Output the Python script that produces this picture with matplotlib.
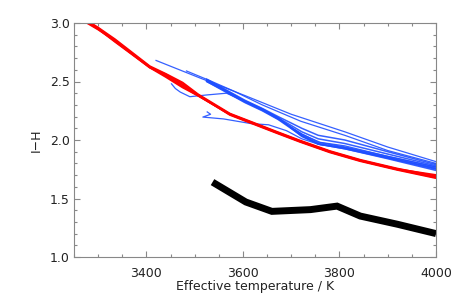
import matplotlib
matplotlib.use("Agg")
import matplotlib.pyplot as plt
from matplotlib.ticker import MultipleLocator

# ---- data ----
black_T = [3537, 3606, 3660, 3740, 3795, 3843, 3920, 4000]
black_V = [1.64, 1.47, 1.39, 1.405, 1.435, 1.35, 1.28, 1.20]

red_T = [3265, 3300, 3335, 3407, 3440, 3475, 3507, 3573, 3620, 3670, 3718, 3780, 3843, 3920, 4000]
red_V1 = [3.04, 2.95, 2.84, 2.62, 2.54, 2.45, 2.38, 2.22, 2.145, 2.065, 1.99, 1.90, 1.825, 1.75, 1.68]
red_V2 = [3.05, 2.96, 2.86, 2.63, 2.565, 2.49, 2.39, 2.225, 2.15, 2.07, 1.995, 1.905, 1.83, 1.755, 1.69]
red_V3 = [3.03, 2.945, 2.85, 2.62, 2.56, 2.475, 2.385, 2.215, 2.14, 2.06, 1.985, 1.895, 1.82, 1.745, 1.675]
red_V4 = [3.045, 2.955, 2.845, 2.625, 2.55, 2.46, 2.38, 2.22, 2.145, 2.065, 1.99, 1.90, 1.825, 1.75, 1.70]

blueA_T = [3420, 3511, 3604, 3700, 3811, 3900, 4000]
blueA_V = [2.68, 2.53, 2.38, 2.22, 2.07, 1.94, 1.815]
blueB_T = [3483, 3530, 3580, 3640, 3720, 3811, 3900, 4000]
blueB_V = [2.59, 2.51, 2.42, 2.30, 2.16, 2.04, 1.91, 1.80]
bund_T = [3525, 3560, 3604, 3640, 3673, 3722, 3756, 3811, 3900, 4000]
bund_V1 = [2.51, 2.43, 2.33, 2.26, 2.185, 2.04, 1.97, 1.93, 1.85, 1.76]
bund_V2 = [2.50, 2.425, 2.325, 2.255, 2.18, 2.05, 1.98, 1.94, 1.86, 1.77]
bund_V3 = [2.515, 2.435, 2.335, 2.265, 2.19, 2.03, 1.965, 1.925, 1.845, 1.75]
bund_V4 = [2.505, 2.43, 2.33, 2.265, 2.19, 2.07, 2.01, 1.97, 1.88, 1.78]
bund_V5 = [2.52, 2.44, 2.34, 2.27, 2.20, 2.10, 2.04, 2.00, 1.90, 1.79]
bund_V6 = [2.50, 2.42, 2.32, 2.25, 2.175, 2.035, 1.965, 1.925, 1.84, 1.74]
hook1_T = [3452, 3460, 3470, 3490, 3525, 3566, 3604, 3640, 3673, 3722, 3760, 3811, 3900, 4000]
hook1_V = [2.48, 2.44, 2.41, 2.37, 2.385, 2.40, 2.33, 2.26, 2.18, 2.05, 1.98, 1.95, 1.86, 1.77]
hook2_T = [3526, 3533, 3517, 3560, 3617, 3653, 3690, 3722, 3760, 3811, 3900, 4000]
hook2_V = [2.24, 2.22, 2.196, 2.18, 2.14, 2.13, 2.08, 2.01, 1.96, 1.935, 1.85, 1.755]

x_ticks = [3400, 3600, 3800, 4000]
y_ticks = [1.0, 1.5, 2.0, 2.5, 3.0]

# ---- plot ----
fig = plt.figure(figsize=(4.58, 3.05), dpi=100)
ax = fig.add_axes([74/458, 1-257/305, 362/458, 234/305])

blue = '#1f4fff'
ax.plot(blueA_T, blueA_V, color=blue, lw=0.9, alpha=0.9)
ax.plot(blueB_T, blueB_V, color=blue, lw=0.9, alpha=0.9)
for v in [bund_V1, bund_V2, bund_V3, bund_V4, bund_V5, bund_V6]:
    ax.plot(bund_T, v, color=blue, lw=1.1, alpha=0.9)
ax.plot(hook1_T, hook1_V, color=blue, lw=0.9, alpha=0.9)
ax.plot(hook2_T, hook2_V, color=blue, lw=0.9, alpha=0.9)

for v in [red_V1, red_V2, red_V3, red_V4]:
    ax.plot(red_T, v, color='#ff0000', lw=1.5)

ax.plot(black_T, black_V, color='black', lw=5, solid_joinstyle='miter',
        solid_capstyle='butt')

ax.set_xlim(3250, 4000)
ax.set_ylim(1.0, 3.0)
ax.set_xticks(x_ticks)
ax.set_yticks(y_ticks)
ax.set_xticklabels([str(t) for t in x_ticks])
ax.set_yticklabels([f"{t:.1f}" for t in y_ticks])
ax.xaxis.set_minor_locator(MultipleLocator(50))
ax.yaxis.set_minor_locator(MultipleLocator(0.1))
ax.tick_params(which='both', direction='in', top=True, right=True, color='#888888', width=0.8)
ax.tick_params(which='major', length=4)
ax.tick_params(which='minor', length=2.5)
ax.tick_params(axis='x', which='major', pad=7, labelsize=9, labelcolor='#222222')
ax.tick_params(axis='y', which='major', pad=3, labelsize=9, labelcolor='#222222')
for s in ax.spines.values():
    s.set_color('#888888')
    s.set_linewidth(0.8)

ax.set_xlabel('Effective temperature / K', fontsize=9, color='#222222')
ax.set_ylabel('I\u2212H', fontsize=9, color='#222222')
ax.xaxis.set_label_coords(0.5, -0.128)
ax.yaxis.set_label_coords(-0.105, 0.5)
ax.xaxis.label.set_va('center')
ax.yaxis.label.set_va('center')

fig.savefig('out.png', dpi=100)
